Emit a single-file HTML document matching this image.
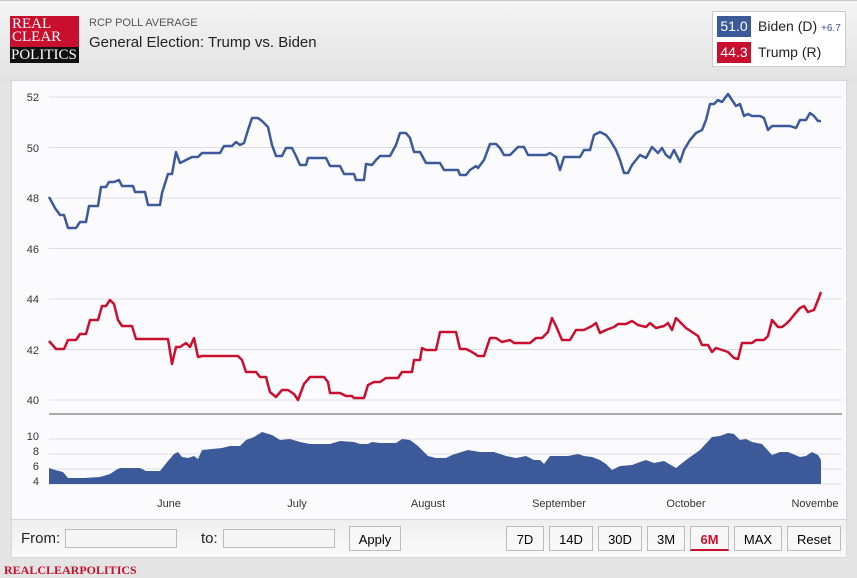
<!DOCTYPE html><html><head><style>
body{margin:0;width:857px;height:577px;background:#e4e4e4;font-family:"Liberation Sans",sans-serif;position:relative;overflow:hidden}
.top{position:absolute;left:0;top:0;width:857px;height:80px;background:linear-gradient(#f4f4f4,#e2e2e2);border-top:1px solid #ccc}
.logo{position:absolute;left:10px;top:16px;width:69px;height:47px;background:#c8102e;font-family:"Liberation Serif",serif;color:#fff;font-size:15px;line-height:13px;padding:2px 0 0 2px;box-sizing:border-box}
.logo .b{position:absolute;left:0;bottom:0;width:69px;height:16px;background:#111;font-size:15px;line-height:16px;padding-left:1px;box-sizing:border-box}
.btn{position:absolute;top:526px;height:25px;border:1px solid #bbb;background:#f7f7f7;font-size:13px;line-height:25px;text-align:center;box-sizing:border-box}
</style></head><body>
<div class="top"></div>
<div class="logo">REAL<br>CLEAR<div class="b">POLITICS</div></div>
<div style="position:absolute;left:89px;top:17px;font-size:11px;color:#555">RCP POLL AVERAGE</div>
<div style="position:absolute;left:89px;top:34px;font-size:15px;color:#222">General Election: Trump vs. Biden</div>
<div style="position:absolute;left:712px;top:11px;width:134px;height:56px;background:#fff;border:1px solid #ccc;box-sizing:border-box"></div>
<div style="position:absolute;left:717px;top:16px;width:34px;height:21px;background:#3c5a99;color:#fff;font-size:14px;line-height:21px;text-align:center">51.0</div>
<div style="position:absolute;left:758px;top:18px;font-size:14px;color:#222">Biden (D) <span style="font-size:10px;color:#3c5a99">+6.7</span></div>
<div style="position:absolute;left:717px;top:42px;width:34px;height:21px;background:#c8102e;color:#fff;font-size:14px;line-height:21px;text-align:center">44.3</div>
<div style="position:absolute;left:758px;top:44px;font-size:14px;color:#222">Trump (R)</div>
<div style="position:absolute;left:11px;top:80px;width:836px;height:440px;background:#fbfbfe;border:1px solid #d8d8d8;box-sizing:border-box"></div>
<svg style="position:absolute;left:0;top:0" width="857" height="577" font-family="Liberation Sans, sans-serif" font-size="11" fill="#333">
<g stroke="#dcdce4" stroke-width="1">
<line x1="49" x2="842" y1="97" y2="97"/><line x1="49" x2="842" y1="147.5" y2="147.5"/><line x1="49" x2="842" y1="198" y2="198"/><line x1="49" x2="842" y1="248.5" y2="248.5"/><line x1="49" x2="842" y1="299" y2="299"/><line x1="49" x2="842" y1="349.5" y2="349.5"/><line x1="49" x2="842" y1="400" y2="400"/>
<line x1="49" x2="842" y1="439" y2="439"/><line x1="49" x2="842" y1="454" y2="454"/><line x1="49" x2="842" y1="469" y2="469"/><line x1="49" x2="842" y1="484" y2="484"/>
</g>
<line x1="49" x2="842" y1="414" y2="414" stroke="#aaa" stroke-width="2"/>
<g text-anchor="end"><text x="39" y="101">52</text><text x="39" y="152">50</text><text x="39" y="202">48</text><text x="39" y="253">46</text><text x="39" y="303">44</text><text x="39" y="354">42</text><text x="39" y="404">40</text>
<text x="39" y="440">10</text><text x="39" y="455">8</text><text x="39" y="470">6</text><text x="39" y="485">4</text></g>
<g text-anchor="middle"><text x="169" y="507">June</text><text x="297" y="507">July</text><text x="428" y="507">August</text><text x="559" y="507">September</text><text x="686" y="507">October</text><text x="815" y="507">Novembe</text></g>
<polygon fill="#3c5a99" points="49,484 49,468 55,470 63,472 68,478 84,478 100,477 110,474 116,470 120,468 140,468 146,471 160,471 168,461 174,454 178,452 182,457 188,458 194,456 198,459 202,450 222,448 230,446 240,446 246,440 254,437 262,432 272,435 280,440 290,439 300,442 310,444 330,444 340,441 354,442 360,444 368,444 372,442 380,443 396,443 402,439 410,440 418,446 424,452 428,456 436,458 446,458 452,455 468,450 480,452 494,452 506,456 516,458 526,456 534,460 540,460 544,464 550,456 560,456 568,456 578,454 584,456 592,457 600,460 606,464 612,470 620,466 632,465 640,462 646,460 654,463 664,461 676,468 686,460 700,450 712,437 720,436 728,433 734,434 740,440 746,439 752,442 762,444 772,455 780,452 788,452 800,457 806,456 812,452 818,455 821,460 821,484"/>
<polyline fill="none" stroke="#3c5a99" stroke-width="2.5" stroke-linejoin="round" points="49,197 55,208 60,215 64,215 68,228 76,228 80,222 86,222 89,206 98,206 101,187 106,187 109,182 114,182 119,180 122,186 133,186 135,192 145,192 148,205 160,205 162,193 168,174 172,174 176,152 180,163 186,160 192,157 198,157 202,153 220,153 224,146 232,146 236,142 240,145 244,143 248,130 252,118 258,118 262,121 268,127 272,145 276,156 282,156 286,148 292,148 296,156 300,165 306,165 308,158 326,158 330,166 340,166 344,174 354,174 356,180 364,180 366,164 372,165 376,160 380,156 390,156 396,145 400,133 406,133 410,138 414,152 420,152 426,163 440,163 444,170 458,170 460,175 466,175 470,170 476,166 478,168 484,160 490,144 496,144 500,148 504,155 510,155 514,151 518,147 524,147 528,155 546,155 550,153 556,157 560,170 564,157 580,157 584,150 590,150 594,135 600,132 606,135 610,140 616,150 620,160 624,173 628,173 632,165 636,160 640,155 646,158 652,147 658,153 662,148 666,155 670,158 674,150 680,162 684,150 690,140 696,133 702,130 706,120 710,104 714,104 718,100 722,102 728,94 732,100 736,106 740,104 744,116 748,114 752,116 760,116 764,118 768,130 772,126 790,126 796,128 800,120 806,120 810,113 814,116 818,121 821,121"/>
<polyline fill="none" stroke="#c8102e" stroke-width="2.5" stroke-linejoin="round" points="49,341 56,349 64,349 68,340 76,340 80,334 86,334 90,320 98,320 102,306 106,306 110,300 114,304 118,320 122,326 132,326 136,339 168,339 172,364 176,347 180,347 186,343 190,347 194,338 198,357 202,356 238,356 242,360 246,372 256,372 260,377 266,377 270,392 276,397 282,390 288,390 294,394 298,400 304,384 310,377 324,377 328,382 330,393 340,393 346,396 352,396 354,398 364,398 368,385 374,382 380,382 386,378 398,378 402,372 412,372 414,360 420,360 422,348 426,350 436,350 440,332 456,332 460,349 466,349 472,352 478,356 484,356 490,338 496,338 502,342 510,340 514,343 530,343 536,338 542,338 548,332 552,318 556,326 562,340 570,340 576,330 584,330 592,326 596,323 600,333 606,330 614,327 618,324 626,324 632,321 638,325 646,327 650,323 656,328 664,326 668,323 672,330 676,318 682,324 686,328 692,332 698,336 702,345 708,345 712,352 716,348 722,350 728,352 734,358 738,359 742,343 752,343 756,340 764,340 768,336 772,320 778,327 782,327 786,324 790,320 794,315 800,308 804,306 808,312 814,310 818,300 821,292"/>
</svg>
<div style="position:absolute;left:11px;top:520px;width:836px;height:38px;background:linear-gradient(#efefef,#fafafa);border:1px solid #d8d8d8;border-top:none;box-sizing:border-box"></div>
<div style="position:absolute;left:21px;top:530px;font-size:15px;color:#222">From:</div>
<div style="position:absolute;left:65px;top:529px;width:112px;height:19px;background:#f5f5f5;border:1px solid #bbb;box-sizing:border-box"></div>
<div style="position:absolute;left:201px;top:530px;font-size:15px;color:#222">to:</div>
<div style="position:absolute;left:223px;top:529px;width:112px;height:19px;background:#f5f5f5;border:1px solid #bbb;box-sizing:border-box"></div>
<div class="btn" style="left:349px;width:52px">Apply</div>
<div class="btn" style="left:506px;width:38px">7D</div>
<div class="btn" style="left:549px;width:44px">14D</div>
<div class="btn" style="left:598px;width:44px">30D</div>
<div class="btn" style="left:647px;width:38px">3M</div>
<div class="btn" style="left:690px;width:39px;color:#c8102e;font-weight:bold;border-bottom:2px solid #c8102e">6M</div>
<div class="btn" style="left:734px;width:48px">MAX</div>
<div class="btn" style="left:787px;width:54px">Reset</div>
<div style="position:absolute;left:4px;top:563px;font-family:'Liberation Serif',serif;font-size:12px;font-weight:bold;color:#c8102e">REALCLEARPOLITICS</div>
</body></html>
